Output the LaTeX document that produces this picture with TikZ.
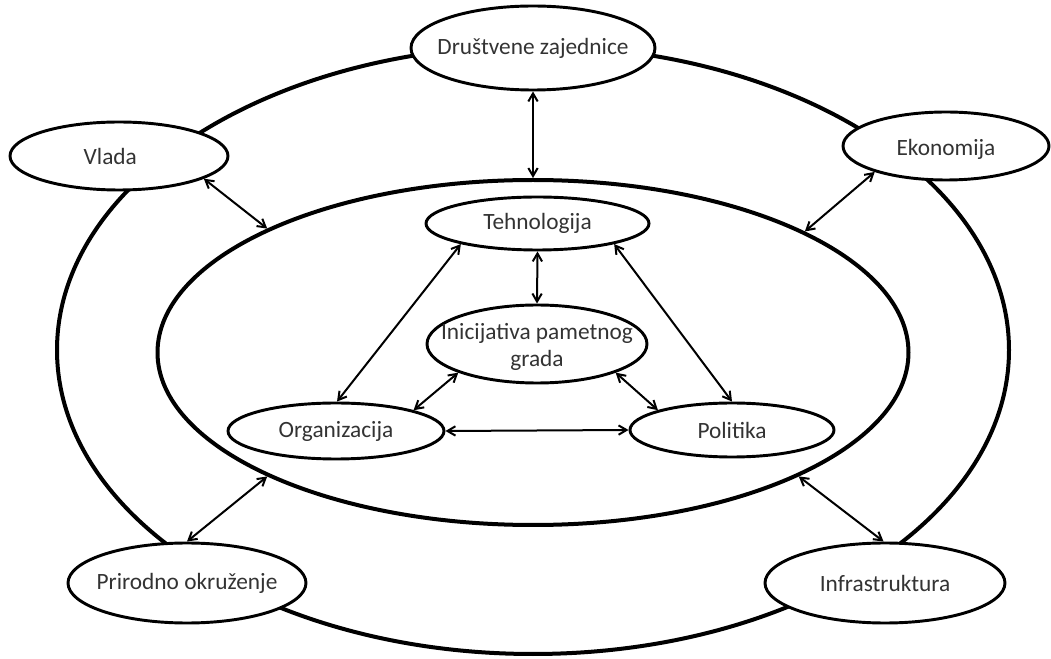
\documentclass[tikz,border=0pt]{standalone}
\usepackage{fontspec}
\setmainfont{Carlito}
\usetikzlibrary{shapes.geometric,arrows.meta}
\tikzset{
  ring/.style={ellipse, draw, line width=3pt, inner sep=0pt},
  oval/.style={ellipse, draw, line width=2.2pt, fill=white, inner sep=0pt,
    font=\fontsize{17.5}{20.5}\selectfont, text=black!80},
  link/.style={{Straight Barb[length=6pt,width=7pt]}-{Straight Barb[length=6pt,width=7pt]}, line width=1.5pt}
}
\newcommand{\ctxt}[1]{\makebox[0pt]{#1}}
\begin{document}
\begin{tikzpicture}[x=0.75pt,y=-0.75pt]
\useasboundingbox (0,0) rectangle (1051,659);
% rings
\node[ring, minimum width=714pt, minimum height=456pt] (outer) at (533,350) {};
\node[ring, minimum width=563.25pt, minimum height=258.75pt] (inner) at (533,352.5) {};
% outer nodes
\node[oval, minimum width=183pt, minimum height=63pt] (drus) at (533,48) {\ctxt{Društvene zajednice}};
\node[oval, minimum width=163.5pt, minimum height=51pt] (vlada) at (119,156) {\ctxt{Vlada\hspace{13pt}}};
\node[oval, minimum width=154.5pt, minimum height=51pt] (ekon) at (946,146) {\raisebox{-7pt}[0pt][0pt]{\ctxt{Ekonomija}}};
\node[oval, minimum width=178.5pt, minimum height=60pt] (prir) at (187,583) {\ctxt{Prirodno okruženje}};
\node[oval, minimum width=180pt, minimum height=60pt] (infra) at (885,583) {\ctxt{Infrastruktura}};
% inner nodes
\node[oval, minimum width=167.25pt, minimum height=39.75pt] (teh) at (537.5,223.5) {\ctxt{Tehnologija}};
\node[oval, minimum width=165pt, minimum height=58.5pt] (inic) at (537,344)
  {\raisebox{-7pt}[0pt][0pt]{\ctxt{\begin{tabular}{c}Inicijativa pametnog\\grada\end{tabular}}}};
\node[oval, minimum width=162pt, minimum height=42pt] (org) at (336,431) {\ctxt{Organizacija}};
\node[oval, minimum width=153pt, minimum height=40.5pt] (pol) at (732,430) {\ctxt{Politika}};
% connectors
\draw[link] (drus.south) -- (inner.north);
\draw[link] (vlada.-15) -- (inner.155);
\draw[link] (ekon.-160) -- (inner.24);
\draw[link] (prir.north) -- (inner.205);
\draw[link] (infra.92) -- (inner.-25);
\draw[link] (teh.south) -- (inic.north);
\draw[link] (teh.-165) -- (org.88);
\draw[link] (teh.-15) -- (pol.north);
\draw[link] (inic.-160) -- (org.15);
\draw[link] (inic.-20) -- (pol.165);
\draw[link] (org.east) -- (pol.west);
\end{tikzpicture}
\end{document}
